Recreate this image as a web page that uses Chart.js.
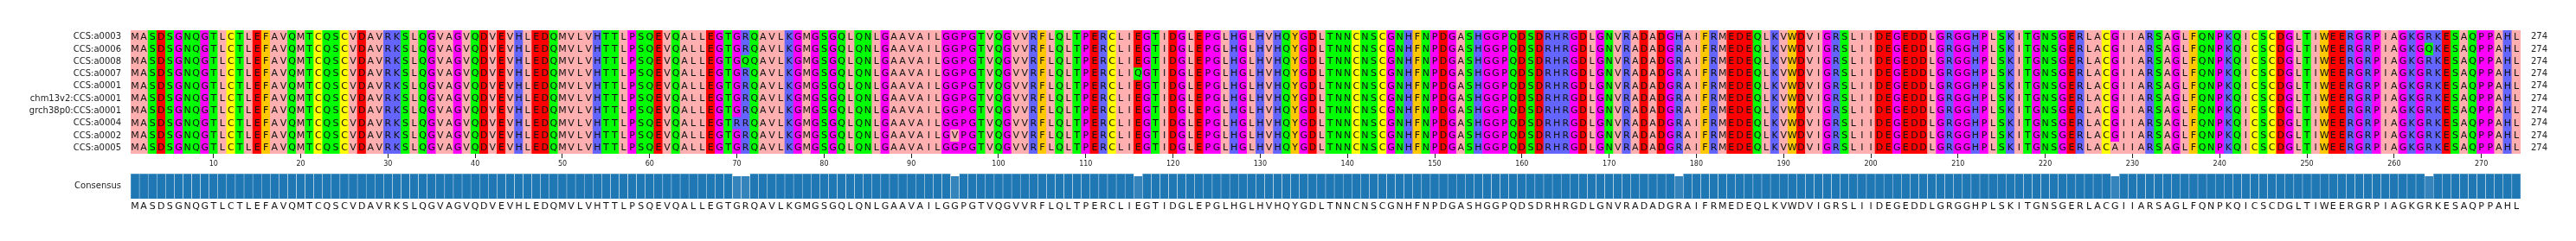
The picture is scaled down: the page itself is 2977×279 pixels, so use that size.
<!DOCTYPE html>
<html>
<head>
<meta charset="utf-8">
<script src="https://cdn.jsdelivr.net/npm/chart.js@4.4.1/dist/chart.umd.min.js"></script>
<style>
    html, body { margin: 0; padding: 0; background: #fff; }
    #wrap { position: relative; width: 2977px; height: 279px; }
    .box { position: absolute; left: 0; width: 2977px; }
</style>
</head>
<body>
<div id="wrap">
    <div class="box" style="top:0;height:200px"><canvas id="alignChart"></canvas></div>
    <div class="box" style="top:190px;height:89px"><canvas id="consensusChart"></canvas></div>
</div>
<script>
// Sequence names, top to bottom
const seqNames = [
    'CCS:a0003', 'CCS:a0006', 'CCS:a0008', 'CCS:a0007', 'CCS:a0001',
    'chm13v2:CCS:a0001', 'grch38p0:CCS:a0001', 'CCS:a0004', 'CCS:a0002', 'CCS:a0005'
];

// Aligned sequences (written in blocks of 10 residues)
const sequences = [
    'MASDSGNQGT LCTLEFAVQM TCQSCVDAVR KSLQGVAGVQ DVEVHLEDQM VLVHTTLPSQ EVQALLEGTG RQAVLKGMGS GQLQNLGAAV AILGGPGTVQ GVVRFLQLTP ERCLIEGTID GLEPGLHGLH VHQYGDLTNN CNSCGNHFNP DGASHGGPQD SDRHRGDLGN VRADADGHAI FRMEDEQLKV WDVIGRSLII DEGEDDLGRG GHPLSKITGN SGERLACGII ARSAGLFQNP KQICSCDGLT IWEERGRPIA GKGRKESAQP PAHL',
    'MASDSGNQGT LCTLEFAVQM TCQSCVDAVR KSLQGVAGVQ DVEVHLEDQM VLVHTTLPSQ EVQALLEGTG RQAVLKGMGS GQLQNLGAAV AILGGPGTVQ GVVRFLQLTP ERCLIEGTID GLEPGLHGLH VHQYGDLTNN CNSCGNHFNP DGASHGGPQD SDRHRGDLGN VRADADGRAI FRMEDEQLKV WDVIGRSLII DEGEDDLGRG GHPLSKITGN SGERLACGII ARSAGLFQNP KQICSCDGLT IWEERGRPIA GKGQKESAQP PAHL',
    'MASDSGNQGT LCTLEFAVQM TCQSCVDAVR KSLQGVAGVQ DVEVHLEDQM VLVHTTLPSQ EVQALLEGTG QQAVLKGMGS GQLQNLGAAV AILGGPGTVQ GVVRFLQLTP ERCLIEGTID GLEPGLHGLH VHQYGDLTNN CNSCGNHFNP DGASHGGPQD SDRHRGDLGN VRADADGRAI FRMEDEQLKV WDVIGRSLII DEGEDDLGRG GHPLSKITGN SGERLACGII ARSAGLFQNP KQICSCDGLT IWEERGRPIA GKGRKESAQP PAHL',
    'MASDSGNQGT LCTLEFAVQM TCQSCVDAVR KSLQGVAGVQ DVEVHLEDQM VLVHTTLPSQ EVQALLEGTG RQAVLKGMGS GQLQNLGAAV AILGGPGTVQ GVVRFLQLTP ERCLIQGTID GLEPGLHGLH VHQYGDLTNN CNSCGNHFNP DGASHGGPQD SDRHRGDLGN VRADADGRAI FRMEDEQLKV WDVIGRSLII DEGEDDLGRG GHPLSKITGN SGERLACGII ARSAGLFQNP KQICSCDGLT IWEERGRPIA GKGRKESAQP PAHL',
    'MASDSGNQGT LCTLEFAVQM TCQSCVDAVR KSLQGVAGVQ DVEVHLEDQM VLVHTTLPSQ EVQALLEGTG RQAVLKGMGS GQLQNLGAAV AILGGPGTVQ GVVRFLQLTP ERCLIEGTID GLEPGLHGLH VHQYGDLTNN CNSCGNHFNP DGASHGGPQD SDRHRGDLGN VRADADGRAI FRMEDEQLKV WDVIGRSLII DEGEDDLGRG GHPLSKITGN SGERLACGII ARSAGLFQNP KQICSCDGLT IWEERGRPIA GKGRKESAQP PAHL',
    'MASDSGNQGT LCTLEFAVQM TCQSCVDAVR KSLQGVAGVQ DVEVHLEDQM VLVHTTLPSQ EVQALLEGTG RQAVLKGMGS GQLQNLGAAV AILGGPGTVQ GVVRFLQLTP ERCLIEGTID GLEPGLHGLH VHQYGDLTNN CNSCGNHFNP DGASHGGPQD SDRHRGDLGN VRADADGRAI FRMEDEQLKV WDVIGRSLII DEGEDDLGRG GHPLSKITGN SGERLACGII ARSAGLFQNP KQICSCDGLT IWEERGRPIA GKGRKESAQP PAHL',
    'MASDSGNQGT LCTLEFAVQM TCQSCVDAVR KSLQGVAGVQ DVEVHLEDQM VLVHTTLPSQ EVQALLEGTG RQAVLKGMGS GQLQNLGAAV AILGGPGTVQ GVVRFLQLTP ERCLIEGTID GLEPGLHGLH VHQYGDLTNN CNSCGNHFNP DGASHGGPQD SDRHRGDLGN VRADADGRAI FRMEDEQLKV WDVIGRSLII DEGEDDLGRG GHPLSKITGN SGERLACGII ARSAGLFQNP KQICSCDGLT IWEERGRPIA GKGRKESAQP PAHL',
    'MASDSGNQGT LCTLEFAVQM TCQSCVDAVR KSLQGVAGVQ DVEVHLEDQM VLVHTTLPSQ EVQALLEGTR RQAVLKGMGS GQLQNLGAAV AILGGPGTVQ GVVRFLQLTP ERCLIEGTID GLEPGLHGLH VHQYGDLTNN CNSCGNHFNP DGASHGGPQD SDRHRGDLGN VRADADGRAI FRMEDEQLKV WDVIGRSLII DEGEDDLGRG GHPLSKITGN SGERLACGII ARSAGLFQNP KQICSCDGLT IWEERGRPIA GKGRKESAQP PAHL',
    'MASDSGNQGT LCTLEFAVQM TCQSCVDAVR KSLQGVAGVQ DVEVHLEDQM VLVHTTLPSQ EVQALLEGTG RQAVLKGMGS GQLQNLGAAV AILGVPGTVQ GVVRFLQLTP ERCLIEGTID GLEPGLHGLH VHQYGDLTNN CNSCGNHFNP DGASHGGPQD SDRHRGDLGN VRADADGRAI FRMEDEQLKV WDVIGRSLII DEGEDDLGRG GHPLSKITGN SGERLACGII ARSAGLFQNP KQICSCDGLT IWEERGRPIA GKGRKESAQP PAHL',
    'MASDSGNQGT LCTLEFAVQM TCQSCVDAVR KSLQGVAGVQ DVEVHLEDQM VLVHTTLPSQ EVQALLEGTG RQAVLKGMGS GQLQNLGAAV AILGGPGTVQ GVVRFLQLTP ERCLIEGTID GLEPGLHGLH VHQYGDLTNN CNSCGNHFNP DGASHGGPQD SDRHRGDLGN VRADADGRAI FRMEDEQLKV WDVIGRSLII DEGEDDLGRG GHPLSKITGN SGERLACAII ARSAGLFQNP KQICSCDGLT IWEERGRPIA GKGRKESAQP PAHL'
].map(s => s.replace(/ /g, ''));

// Consensus residues shown under the bars
const consensusSeq = (
    'MASDSGNQGT LCTLEFAVQM TCQSCVDAVR KSLQGVAGVQ DVEVHLEDQM VLVHTTLPSQ EVQALLEGTG RQAVLKGMGS GQLQNLGAAV AILGGPGTVQ GVVRFLQLTP ERCLIEGTID GLEPGLHGLH VHQYGDLTNN CNSCGNHFNP DGASHGGPQD SDRHRGDLGN VRADADGRAI FRMEDEQLKV WDVIGRSLII DEGEDDLGRG GHPLSKITGN SGERLACGII ARSAGLFQNP KQICSCDGLT IWEERGRPIA GKGRKESAQP PAHL'
).replace(/ /g, '');

// Consensus identity (%) per column, 10 columns per line
const consensusIdentity = [
    100, 100, 100, 100, 100, 100, 100, 100, 100, 100,
    100, 100, 100, 100, 100, 100, 100, 100, 100, 100,
    100, 100, 100, 100, 100, 100, 100, 100, 100, 100,
    100, 100, 100, 100, 100, 100, 100, 100, 100, 100,
    100, 100, 100, 100, 100, 100, 100, 100, 100, 100,
    100, 100, 100, 100, 100, 100, 100, 100, 100, 100,
    100, 100, 100, 100, 100, 100, 100, 100, 100, 90,
    90, 100, 100, 100, 100, 100, 100, 100, 100, 100,
    100, 100, 100, 100, 100, 100, 100, 100, 100, 100,
    100, 100, 100, 100, 90, 100, 100, 100, 100, 100,
    100, 100, 100, 100, 100, 100, 100, 100, 100, 100,
    100, 100, 100, 100, 100, 90, 100, 100, 100, 100,
    100, 100, 100, 100, 100, 100, 100, 100, 100, 100,
    100, 100, 100, 100, 100, 100, 100, 100, 100, 100,
    100, 100, 100, 100, 100, 100, 100, 100, 100, 100,
    100, 100, 100, 100, 100, 100, 100, 100, 100, 100,
    100, 100, 100, 100, 100, 100, 100, 100, 100, 100,
    100, 100, 100, 100, 100, 100, 100, 90, 100, 100,
    100, 100, 100, 100, 100, 100, 100, 100, 100, 100,
    100, 100, 100, 100, 100, 100, 100, 100, 100, 100,
    100, 100, 100, 100, 100, 100, 100, 100, 100, 100,
    100, 100, 100, 100, 100, 100, 100, 100, 100, 100,
    100, 100, 100, 100, 100, 100, 100, 90, 100, 100,
    100, 100, 100, 100, 100, 100, 100, 100, 100, 100,
    100, 100, 100, 100, 100, 100, 100, 100, 100, 100,
    100, 100, 100, 100, 100, 100, 100, 100, 100, 100,
    100, 100, 100, 90, 100, 100, 100, 100, 100, 100,
    100, 100, 100, 100
];

// Position tick labels on the alignment axis
const tickPositions = [10, 20, 30, 40, 50, 60, 70, 80, 90, 100, 110, 120, 130, 140,
    150, 160, 170, 180, 190, 200, 210, 220, 230, 240, 250, 260, 270];

// Zappo colour scheme
const residueColors = {
    A: '#ffafaf', V: '#ffafaf', L: '#ffafaf', I: '#ffafaf', M: '#ffafaf',
    F: '#ffc800', W: '#ffc800', Y: '#ffc800',
    K: '#6464ff', R: '#6464ff', H: '#6464ff',
    D: '#ff0000', E: '#ff0000',
    S: '#00ff00', T: '#00ff00', N: '#00ff00', Q: '#00ff00',
    P: '#ff00ff', G: '#ff00ff',
    C: '#ffff00'
};

const FONT = '"DejaVu Sans", "Liberation Sans", sans-serif';
const columnLabels = consensusSeq.split('').map((_, i) => String(i + 1));

// Draw residue letters, names and lengths over the alignment grid
const alignTextPlugin = {
    id: 'alignText',
    afterDatasetsDraw(chart) {
        const { ctx, chartArea, scales: { x, y } } = chart;
        ctx.save();
        ctx.textBaseline = 'middle';
        ctx.fillStyle = '#111';
        ctx.font = '11px ' + FONT;
        ctx.textAlign = 'center';
        sequences.forEach((seq, r) => {
            const yc = y.getPixelForValue(r + 0.5) + 0.5;
            for (let i = 0; i < seq.length; i++) {
                ctx.fillText(seq[i], x.getPixelForValue(i), yc);
            }
        });
        ctx.font = '10px ' + FONT;
        ctx.fillStyle = '#222';
        ctx.textAlign = 'right';
        seqNames.forEach((name, r) => {
            ctx.fillText(name, chartArea.left - 11, y.getPixelForValue(r + 0.5) + 0.5);
        });
        ctx.textAlign = 'left';
        sequences.forEach((seq, r) => {
            ctx.fillText(String(seq.replace(/-/g, '').length), chartArea.right + 12, y.getPixelForValue(r + 0.5) + 0.5);
        });
        ctx.restore();
    }
};

// Consensus letters and row label
const consensusTextPlugin = {
    id: 'consensusText',
    afterDatasetsDraw(chart) {
        const { ctx, chartArea, scales: { x } } = chart;
        ctx.save();
        ctx.textBaseline = 'middle';
        ctx.fillStyle = '#111';
        ctx.font = '11px ' + FONT;
        ctx.textAlign = 'center';
        for (let i = 0; i < consensusSeq.length; i++) {
            ctx.fillText(consensusSeq[i], x.getPixelForValue(i), chartArea.bottom + 9);
        }
        ctx.font = '10px ' + FONT;
        ctx.fillStyle = '#222';
        ctx.textAlign = 'right';
        ctx.fillText('Consensus', chartArea.left - 11, (chartArea.top + chartArea.bottom) / 2);
        ctx.restore();
    }
};

function buildAlignChart() {
    const ctx = document.getElementById('alignChart').getContext('2d');
    const datasets = sequences.map((seq, r) => ({
        label: seqNames[r],
        data: seq.split('').map(() => [r, r + 1]),
        backgroundColor: seq.split('').map(aa => residueColors[aa] || '#ffffff'),
        borderWidth: 0,
        barPercentage: 1,
        categoryPercentage: 1,
        grouped: false
    }));

    return new Chart(ctx, {
        type: 'bar',
        data: { labels: columnLabels, datasets: datasets },
        plugins: [alignTextPlugin],
        options: {
            responsive: true,
            maintainAspectRatio: false,
            animation: false,
            layout: { padding: { left: 151, right: 64, top: 35, bottom: 0 } },
            plugins: { legend: { display: false }, tooltip: { enabled: false } },
            scales: {
                x: {
                    type: 'category',
                    offset: true,
                    grid: {
                        display: true,
                        offset: false,
                        drawOnChartArea: false,
                        drawTicks: true,
                        tickLength: 5,
                        tickColor: '#222',
                        tickWidth: 1
                    },
                    border: { display: false },
                    ticks: {
                        autoSkip: false,
                        maxRotation: 0,
                        padding: 2,
                        color: '#222',
                        font: { family: FONT, size: 8 }
                    },
                    afterBuildTicks: (scale) => {
                        scale.ticks = tickPositions.map(p => ({ value: p - 1 }));
                    },
                    afterFit: (scale) => { scale.height = 22; }
                },
                y: {
                    type: 'linear',
                    min: 0,
                    max: 10,
                    reverse: true,
                    display: false
                }
            }
        }
    });
}

function buildConsensusChart() {
    const ctx = document.getElementById('consensusChart').getContext('2d');
    return new Chart(ctx, {
        type: 'bar',
        data: {
            labels: columnLabels,
            datasets: [{
                label: 'Consensus',
                data: consensusIdentity,
                backgroundColor: consensusIdentity.map(v => `rgba(31, 119, 180, ${v / 100})`),
                borderColor: 'rgba(255, 255, 255, 0.85)',
                borderWidth: 0.5,
                barPercentage: 1,
                categoryPercentage: 1
            }]
        },
        plugins: [consensusTextPlugin],
        options: {
            responsive: true,
            maintainAspectRatio: false,
            animation: false,
            layout: { padding: { left: 151, right: 64, top: 11, bottom: 49 } },
            plugins: { legend: { display: false }, tooltip: { enabled: false } },
            scales: {
                x: { type: 'category', offset: true, display: false },
                y: { type: 'linear', min: 0, max: 100, display: false }
            }
        }
    });
}

buildAlignChart();
buildConsensusChart();
</script>
</body>
</html>
